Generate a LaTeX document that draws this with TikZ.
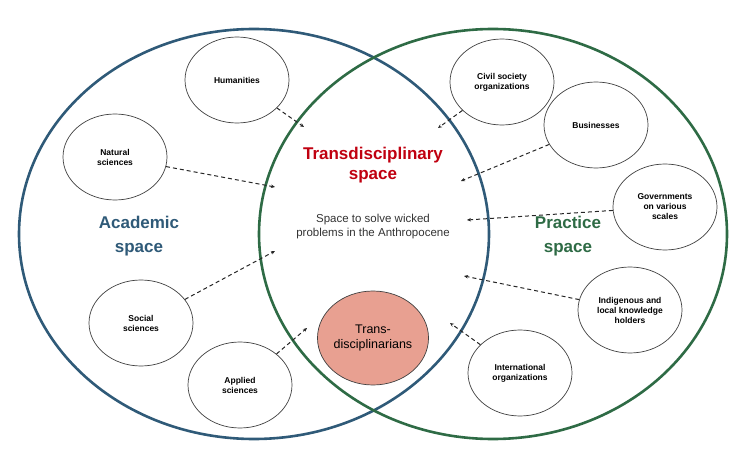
\documentclass[tikz,border=0pt]{standalone}
\usepackage{fontspec}
\setmainfont{Liberation Sans}
\usetikzlibrary{arrows.meta,shapes.geometric}
\definecolor{acblue}{HTML}{2F5A78}
\definecolor{prgreen}{HTML}{2E6B45}
\definecolor{tdred}{HTML}{C00010}
\definecolor{tdfill}{HTML}{E8A091}
\begin{document}
\begin{tikzpicture}[x=1pt,y=-1pt,
  big/.style={line width=2.6pt},
  small/.style={draw=black!75,line width=0.7pt,fill=white,ellipse,minimum width=104pt,minimum height=86pt,inner sep=0pt,align=center,font=\fontsize{8.5}{10}\selectfont\bfseries},
  link/.style={dashed,line width=1pt,dash pattern=on 4pt off 3pt,-{Stealth[length=4pt,width=3.5pt]},black!85},
  every node/.style={align=center}]
\useasboundingbox (0,0) rectangle (747,473);
\draw[big,acblue] (254,234) ellipse [x radius=235,y radius=205];
\draw[big,prgreen] (493,234) ellipse [x radius=234,y radius=205];
\node[small] (hum) at (237,80) {Humanities};
\node[small] (nat) at (115,157) {Natural\\sciences};
\node[small] (soc) at (141,323) {Social\\sciences};
\node[small] (app) at (240,385) {Applied\\sciences};
\node[small] (civ) at (502,82) {Civil society\\organizations};
\node[small] (bus) at (596,125) {Businesses};
\node[small] (gov) at (665,207) {Governments\\on various\\scales};
\node[small] (ind) at (630,310) {Indigenous and\\local knowledge\\holders};
\node[small] (int) at (520,373) {International\\organizations};
\node[draw=black!75,line width=0.7pt,fill=tdfill,ellipse,minimum width=100pt,minimum height=94pt,inner sep=0pt,font=\fontsize{12.5}{15}\selectfont] (td) at (373,338) {Trans-\\disciplinarians};
\node[font=\fontsize{17}{20}\selectfont\bfseries,text=tdred] (tds) at (373,165) {Transdisciplinary\\space};
\node[font=\fontsize{11.5}{14}\selectfont,text=black!80] (mid) at (373,227) {Space to solve wicked\\problems in the Anthropocene};
\node[font=\fontsize{17}{24}\selectfont\bfseries,text=acblue] (aca) at (139,236) {Academic\\space};
\node[font=\fontsize{17}{24}\selectfont\bfseries,text=prgreen] (pra) at (568,236) {Practice\\space};
\coordinate (eh) at (304,127);
\coordinate (en) at (275,187);
\coordinate (es) at (275,251);
\coordinate (ea) at (307,328);
\coordinate (ec) at (438,128);
\coordinate (eb) at (461,181);
\coordinate (eg) at (467,220);
\coordinate (ei) at (464,276);
\coordinate (eo) at (450,323);
\draw[link] (hum) -- (eh);
\draw[link] (nat) -- (en);
\draw[link] (soc) -- (es);
\draw[link] (app) -- (ea);
\draw[link] (civ) -- (ec);
\draw[link] (bus) -- (eb);
\draw[link] (gov) -- (eg);
\draw[link] (ind) -- (ei);
\draw[link] (int) -- (eo);
\end{tikzpicture}
\end{document}
